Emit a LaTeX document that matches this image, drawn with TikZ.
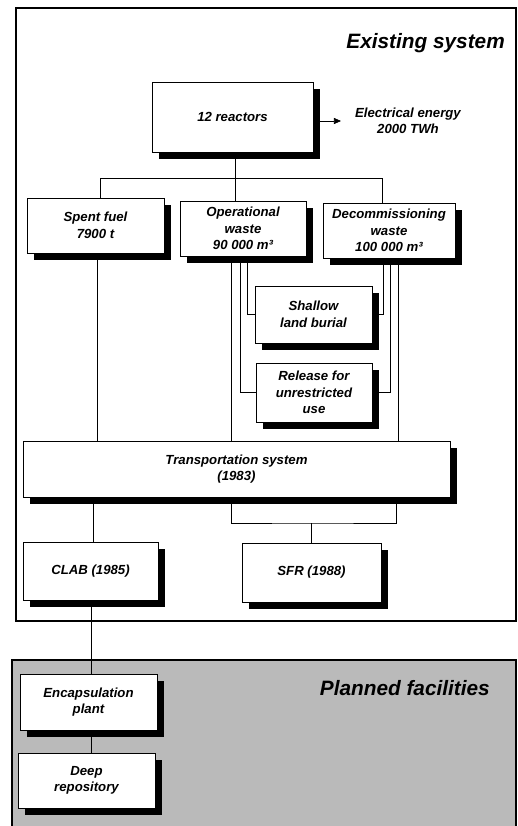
\documentclass[tikz,border=0pt]{standalone}
\usepackage{fontspec}
\setmainfont{Liberation Sans}
\usetikzlibrary{shadows,arrows.meta}
\pgfdeclarelayer{bg}
\pgfdeclarelayer{lines}
\pgfsetlayers{bg,lines,main}
\begin{document}
\begin{tikzpicture}[x=1pt,y=-1pt,
  box/.style={draw=black, line width=0.9pt, fill=white, rectangle, inner sep=0pt, align=center,
    font=\fontsize{13.2}{16.5}\selectfont\bfseries\itshape,
    drop shadow={shadow xshift=6.5pt, shadow yshift=-7pt, fill=black, opacity=1}},
  lbl/.style={align=center, font=\fontsize{13.2}{16.5}\selectfont\bfseries\itshape, inner sep=0pt},
  ttl/.style={font=\fontsize{20.8}{24}\selectfont\bfseries\itshape, inner sep=0pt, anchor=base east},
  conn/.style={draw=black, line width=0.7pt},
  frame/.style={draw=black, line width=1.6pt}]
\useasboundingbox (0,0) rectangle (518,826);

% nodes
\node[box, minimum width=161pt, minimum height=70pt] (r) at (232.5,117) {12 reactors};
\node[lbl] (el) at (408,121) {Electrical energy\\2000 TWh};
\node[box, minimum width=137pt, minimum height=55pt] (sp) at (95.5,225.5) {Spent fuel\\7900 t};
\node[box, minimum width=126pt, minimum height=55pt] (op) at (243,228.5) {Operational\\waste\\90 000 m³};
\node[box, minimum width=132pt, minimum height=55pt] (dc) at (389,230.5) {Decommissioning\\waste\\100 000 m³};
\node[box, minimum width=117pt, minimum height=57pt] (sh) at (313.5,314.5) {Shallow\\land burial};
\node[box, minimum width=116pt, minimum height=59pt] (rl) at (314,392.5) {Release for\\unrestricted\\use};
\node[box, minimum width=427pt, minimum height=56pt] (tr) at (236.5,469) {Transportation system\\(1983)};
\node[box, minimum width=135pt, minimum height=58pt] (cl) at (90.5,571) {CLAB (1985)};
\node[box, minimum width=139pt, minimum height=59pt] (sf) at (311.5,572.5) {SFR (1988)};
\node[box, minimum width=137pt, minimum height=56pt] (en) at (88.5,702) {Encapsulation\\plant};
\node[box, minimum width=137pt, minimum height=55pt] (dp) at (86.5,780.5) {Deep\\repository};

\node[ttl] (t1) at (505,49) {Existing system};
\node[ttl] (t2) at (490,695) {Planned facilities};

% frames
\begin{pgfonlayer}{bg}
\fill[black!27] (12,660) rectangle (516,830);
\draw[black, line width=1.3pt] (12,830) -- (12,660) -- (516,660) -- (516,830);
\draw[frame, fill=white] (16,8) rectangle (516,621);
\end{pgfonlayer}

% connectors
\begin{pgfonlayer}{lines}
\coordinate (j1) at (235,178);
\coordinate (j2) at (311.5,523);
\draw[conn] (r.south -| j1) -- (j1);
\draw[conn] ([xshift=4.5pt]sp.north) |- (j1);
\draw[conn] ([xshift=-7pt]dc.north) |- (j1);
\draw[conn] (op.north -| j1) -- (j1);
\draw[conn, -{Triangle[length=7pt,width=6pt]}] ([xshift=7pt]r.east |- el.west) -- ([xshift=-14pt]el.west);
\draw[conn] ([xshift=1.5pt]sp.south) -- ([xshift=1.5pt]sp.south |- tr.north);
\draw[conn] ([xshift=-12pt]op.south) -- ([xshift=-12pt]op.south |- tr.north);
\draw[conn] ([xshift=4pt]op.south) |- (sh.west);
\draw[conn] ([xshift=-3pt]op.south) |- (rl.west);
\draw[conn] ([xshift=-6pt]dc.south) |- (sh.east);
\draw[conn] ([xshift=1pt]dc.south) |- (rl.east);
\draw[conn] ([xshift=9pt]dc.south) -- ([xshift=9pt]dc.south |- tr.north);
\draw[conn] ([xshift=2.5pt]cl.north) -- ([xshift=2.5pt]cl.north |- tr.south);
\draw[conn] ([xshift=-5.5pt]tr.south) |- (j2) -| ([xshift=159.5pt]tr.south);
\draw[conn] (j2) -- (sf.north);
\draw[conn] ([xshift=0.5pt]cl.south) -- ([xshift=0.5pt]cl.south |- en.north);
\draw[conn] ([xshift=2.5pt]en.south) -- ([xshift=2.5pt]en.south |- dp.north);
\end{pgfonlayer}
\end{tikzpicture}
\end{document}
